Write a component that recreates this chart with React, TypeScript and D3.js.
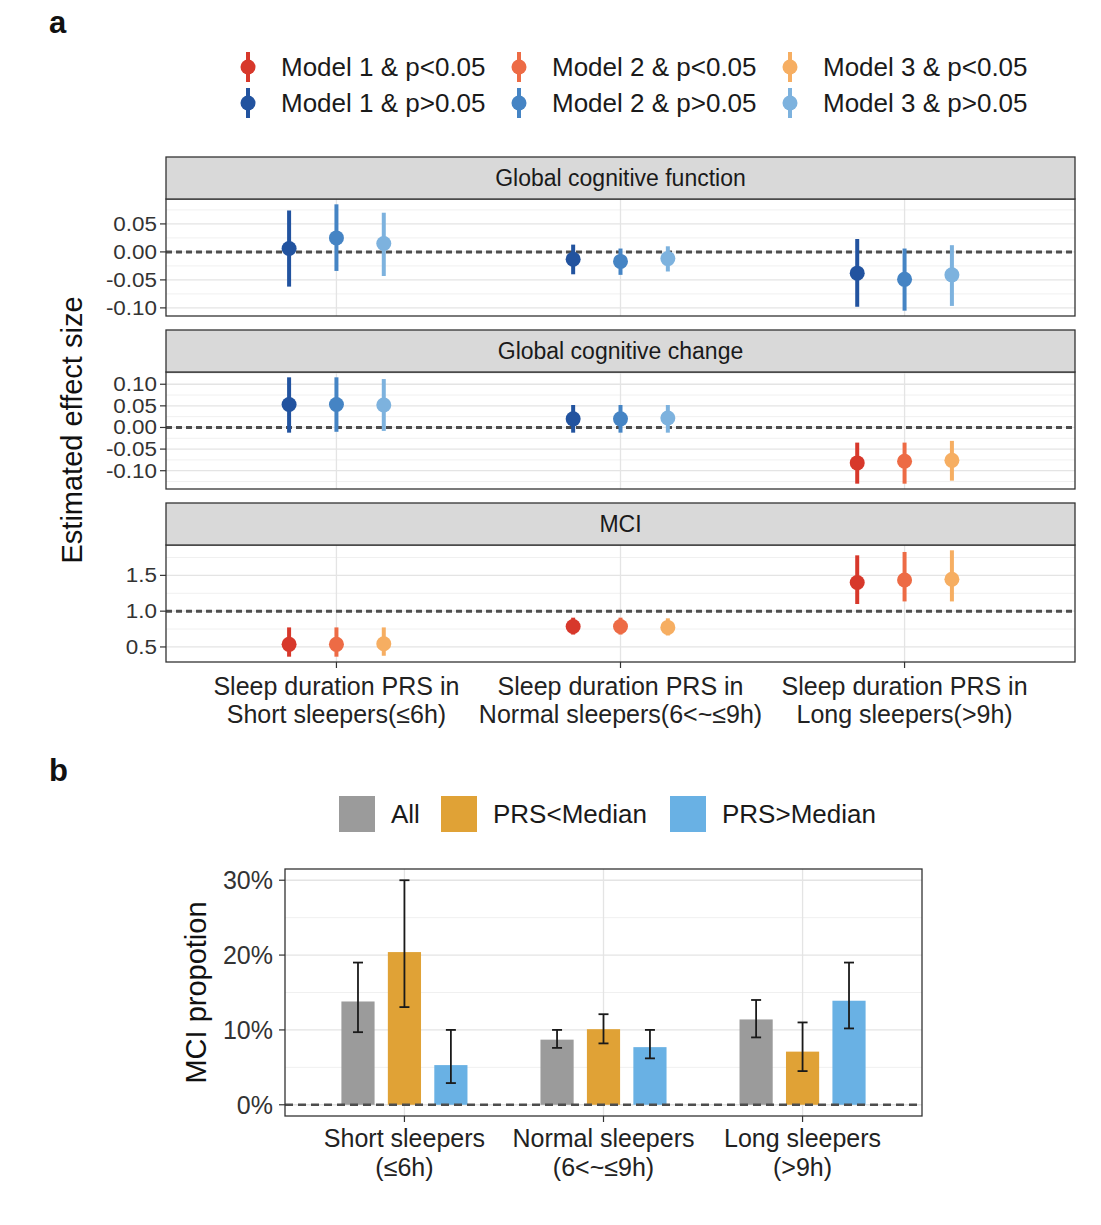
import React from "react";
import * as d3 from "d3";

const FONT = '"Liberation Sans", Arial, Helvetica, sans-serif';

// ---------- Panel a data ----------
const categoriesA = [
  ["Sleep duration PRS in", "Short sleepers(≤6h)"],
  ["Sleep duration PRS in", "Normal sleepers(6<~≤9h)"],
  ["Sleep duration PRS in", "Long sleepers(>9h)"],
];
const facetTitles = ["Global cognitive function", "Global cognitive change", "MCI"];
const models = ["Model 1", "Model 2", "Model 3"];

// [category][model]
const gcfEst = [[0.006, 0.025, 0.015], [-0.013, -0.017, -0.012], [-0.038, -0.049, -0.041]];
const gcfLow = [[-0.062, -0.034, -0.043], [-0.040, -0.041, -0.035], [-0.098, -0.105, -0.0965]];
const gcfHigh = [[0.074, 0.085, 0.070], [0.013, 0.006, 0.010], [0.023, 0.006, 0.012]];
const gcfSig = [[false, false, false], [false, false, false], [false, false, false]];

const gccEst = [[0.053, 0.053, 0.052], [0.020, 0.020, 0.022], [-0.082, -0.078, -0.076]];
const gccLow = [[-0.012, -0.010, -0.008], [-0.012, -0.012, -0.012], [-0.130, -0.130, -0.123]];
const gccHigh = [[0.116, 0.116, 0.112], [0.052, 0.052, 0.052], [-0.035, -0.035, -0.031]];
const gccSig = [[false, false, false], [false, false, false], [true, true, true]];

const mciEst = [[0.536, 0.536, 0.545], [0.786, 0.786, 0.773], [1.40, 1.436, 1.445]];
const mciLow = [[0.364, 0.364, 0.377], [0.673, 0.673, 0.66], [1.10, 1.136, 1.136]];
const mciHigh = [[0.773, 0.773, 0.773], [0.909, 0.909, 0.90], [1.78, 1.827, 1.85]];
const mciSig = [[true, true, true], [true, true, true], [true, true, true]];

const gcfTicks = [-0.1, -0.05, 0, 0.05];
const gccTicks = [-0.1, -0.05, 0, 0.05, 0.1];
const mciTicks = [0.5, 1.0, 1.5];
const refLines = [0, 0, 1];

const sigColors = ["#d7382b", "#ed6b45", "#f6ae62"];
const nsColors = ["#22539f", "#4584c4", "#7db2de"];

// ---------- Panel b data ----------
const categoriesB = [
  ["Short sleepers", "(≤6h)"],
  ["Normal sleepers", "(6<~≤9h)"],
  ["Long sleepers", "(>9h)"],
];
const groupsB = ["All", "PRS<Median", "PRS>Median"];
const groupColors = ["#9b9b9b", "#e0a236", "#69b1e4"];
const propVal = [[13.8, 20.4, 5.3], [8.7, 10.1, 7.7], [11.4, 7.1, 13.9]];
const propLow = [[9.7, 13.05, 2.9], [7.6, 8.2, 6.2], [9.0, 4.5, 10.2]];
const propHigh = [[19.0, 30.0, 10.0], [10.0, 12.1, 10.0], [14.0, 11.0, 19.0]];
const propTicks = [0, 10, 20, 30];

const fmt2 = (v: number) => d3.format(".2f")(v).replace("\u2212", "-");
const fmt1 = (v: number) => d3.format(".1f")(v).replace("\u2212", "-");

const facets = [
  { title: facetTitles[0], est: gcfEst, low: gcfLow, high: gcfHigh, sig: gcfSig, ticks: gcfTicks, fmt: fmt2 },
  { title: facetTitles[1], est: gccEst, low: gccLow, high: gccHigh, sig: gccSig, ticks: gccTicks, fmt: fmt2 },
  { title: facetTitles[2], est: mciEst, low: mciLow, high: mciHigh, sig: mciSig, ticks: mciTicks, fmt: fmt1 },
];

function minorBreaks(ticks: number[], domain: number[]) {
  const step = ticks[1] - ticks[0];
  const out: number[] = [];
  for (let i = -1; i < ticks.length; i++) {
    const v = ticks[0] + step * i + step / 2;
    if (v >= domain[0] && v <= domain[1]) out.push(v);
  }
  return out;
}

export default function App() {
  const PX0 = 166, PX1 = 1075;
  const xA = d3.scaleLinear().domain([0.4, 3.6]).range([PX0, PX1]);
  const dodgeA = 0.5 / 3;
  const stripTops = [157, 330, 503];
  const stripH = 42;
  const panelH = 117;

  // panel b
  const BX0 = 285, BX1 = 922, BY0 = 869, BY1 = 1116;
  const xB = d3.scaleLinear().domain([0.4, 3.6]).range([BX0, BX1]);
  const yB = d3.scaleLinear().domain([-1.5, 31.5]).range([BY1, BY0]);
  const dodgeB = 0.7 / 3;
  const barW = xB(0.5 / 3) - xB(0);

  return (
    <svg width={1101} height={1225} style={{ position: "absolute", left: 0, top: 0, background: "#fff" }} fontFamily={FONT}>
      <rect width={1101} height={1225} fill="#fff" />
      <text x={49} y={33} fontSize={31} fontWeight="bold" fill="#111">a</text>
      <text x={49} y={781} fontSize={31} fontWeight="bold" fill="#111">b</text>

      {/* legend a */}
      {[0, 1, 2].map((m) =>
        [0, 1].map((r) => {
          const cx = 248 + m * 271;
          const cy = 67 + r * 36;
          const col = r === 0 ? sigColors[m] : nsColors[m];
          return (
            <g key={`lg${m}${r}`}>
              <line x1={cx} x2={cx} y1={cy - 15} y2={cy + 15} stroke={col} strokeWidth={4} />
              <circle cx={cx} cy={cy} r={7.5} fill={col} />
              <text x={cx + 33} y={cy} dy="0.36em" fontSize={26} fill="#1a1a1a">
                {`${models[m]} & p${r === 0 ? "<" : ">"}0.05`}
              </text>
            </g>
          );
        })
      )}

      {/* facets */}
      {facets.map((f, fi) => {
        const sTop = stripTops[fi];
        const pTop = sTop + stripH;
        const pBot = pTop + panelH;
        const lows = f.low.flat();
        const highs = f.high.flat();
        const mn = d3.min(lows)!, mx = d3.max(highs)!;
        const pad = (mx - mn) * 0.05;
        const dom = [mn - pad, mx + pad];
        const y = d3.scaleLinear().domain(dom).range([pBot, pTop]);
        const minors = minorBreaks(f.ticks, dom);
        return (
          <g key={`f${fi}`}>
            <rect x={PX0} y={pTop} width={PX1 - PX0} height={panelH} fill="#fff" />
            {minors.map((v) => (
              <line key={`mn${v}`} x1={PX0} x2={PX1} y1={y(v)} y2={y(v)} stroke="#f0f0f0" strokeWidth={1} />
            ))}
            {f.ticks.map((v) => (
              <line key={`mj${v}`} x1={PX0} x2={PX1} y1={y(v)} y2={y(v)} stroke="#e4e4e4" strokeWidth={1.3} />
            ))}
            {[1, 2, 3].map((c) => (
              <line key={`vg${c}`} x1={xA(c)} x2={xA(c)} y1={pTop} y2={pBot} stroke="#e4e4e4" strokeWidth={1.3} />
            ))}
            <line x1={PX0} x2={PX1} y1={y(refLines[fi])} y2={y(refLines[fi])} stroke="#4d4d4d" strokeWidth={3} strokeDasharray="6,4" />
            {f.est.map((row, ci) =>
              row.map((v, mi) => {
                const cx = xA(ci + 1 + (mi - 1) * dodgeA);
                const col = f.sig[ci][mi] ? sigColors[mi] : nsColors[mi];
                return (
                  <g key={`p${ci}${mi}`}>
                    <line x1={cx} x2={cx} y1={y(f.low[ci][mi])} y2={y(f.high[ci][mi])} stroke={col} strokeWidth={4} />
                    <circle cx={cx} cy={y(v)} r={7.5} fill={col} />
                  </g>
                );
              })
            )}
            <rect x={PX0} y={pTop} width={PX1 - PX0} height={panelH} fill="none" stroke="#333" strokeWidth={1.3} />
            <rect x={PX0} y={sTop} width={PX1 - PX0} height={stripH} fill="#d9d9d9" stroke="#333" strokeWidth={1.3} />
            <text x={(PX0 + PX1) / 2} y={sTop + stripH / 2} dy="0.36em" textAnchor="middle" fontSize={23} fill="#1a1a1a">
              {f.title}
            </text>
            {f.ticks.map((v) => (
              <g key={`t${v}`}>
                <line x1={PX0 - 6} x2={PX0} y1={y(v)} y2={y(v)} stroke="#333" strokeWidth={1.2} />
                <text x={PX0 - 9} y={y(v)} dy="0.36em" textAnchor="end" fontSize={19.5} fill="#333"
                  transform={`translate(${PX0 - 9},0) scale(1.15,1) translate(${-(PX0 - 9)},0)`}>
                  {f.fmt(v)}
                </text>
              </g>
            ))}
          </g>
        );
      })}

      {/* x axis a */}
      {categoriesA.map((lab, ci) => (
        <g key={`xa${ci}`}>
          <line x1={xA(ci + 1)} x2={xA(ci + 1)} y1={662} y2={668} stroke="#333" strokeWidth={1.2} />
          {lab.map((l, li) => (
            <text key={li} x={xA(ci + 1)} y={695 + li * 28} textAnchor="middle" fontSize={25} fill="#222">
              {l}
            </text>
          ))}
        </g>
      ))}
      <text transform={`translate(82,430) rotate(-90)`} textAnchor="middle" fontSize={29} fill="#111">
        Estimated effect size
      </text>

      {/* legend b */}
      {groupsB.map((g, gi) => {
        const kx = [339, 441, 670][gi];
        return (
          <g key={`lb${gi}`}>
            <rect x={kx} y={796} width={36} height={36} fill={groupColors[gi]} />
            <text x={kx + 52} y={814} dy="0.36em" fontSize={26} fill="#1a1a1a">{g}</text>
          </g>
        );
      })}

      {/* panel b */}
      <rect x={BX0} y={BY0} width={BX1 - BX0} height={BY1 - BY0} fill="#fff" />
      {minorBreaks(propTicks, yB.domain()).map((v) => (
        <line key={`bmn${v}`} x1={BX0} x2={BX1} y1={yB(v)} y2={yB(v)} stroke="#f0f0f0" strokeWidth={1} />
      ))}
      {propTicks.map((v) => (
        <line key={`bmj${v}`} x1={BX0} x2={BX1} y1={yB(v)} y2={yB(v)} stroke="#e4e4e4" strokeWidth={1.3} />
      ))}
      {[1, 2, 3].map((c) => (
        <line key={`bvg${c}`} x1={xB(c)} x2={xB(c)} y1={BY0} y2={BY1} stroke="#e4e4e4" strokeWidth={1.3} />
      ))}
      {propVal.map((row, ci) =>
        row.map((v, gi) => {
          const cx = xB(ci + 1 + (gi - 1) * dodgeB);
          return (
            <rect key={`bar${ci}${gi}`} x={cx - barW / 2} y={yB(v)} width={barW} height={yB(0) - yB(v)} fill={groupColors[gi]} />
          );
        })
      )}
      <line x1={BX0} x2={BX1} y1={yB(0)} y2={yB(0)} stroke="#4d4d4d" strokeWidth={2.6} strokeDasharray="8,5" />
      {propVal.map((row, ci) =>
        row.map((_, gi) => {
          const cx = xB(ci + 1 + (gi - 1) * dodgeB);
          const lo = yB(propLow[ci][gi]);
          const hi = yB(propHigh[ci][gi]);
          return (
            <g key={`eb${ci}${gi}`} stroke="#1a1a1a" strokeWidth={1.8}>
              <line x1={cx} x2={cx} y1={lo} y2={hi} />
              <line x1={cx - 5} x2={cx + 5} y1={lo} y2={lo} />
              <line x1={cx - 5} x2={cx + 5} y1={hi} y2={hi} />
            </g>
          );
        })
      )}
      <rect x={BX0} y={BY0} width={BX1 - BX0} height={BY1 - BY0} fill="none" stroke="#333" strokeWidth={1.3} />
      {propTicks.map((v) => (
        <g key={`bt${v}`}>
          <line x1={BX0 - 6} x2={BX0} y1={yB(v)} y2={yB(v)} stroke="#333" strokeWidth={1.2} />
          <text x={BX0 - 12} y={yB(v)} dy="0.36em" textAnchor="end" fontSize={25} fill="#333">{`${v}%`}</text>
        </g>
      ))}
      {categoriesB.map((lab, ci) => (
        <g key={`xb${ci}`}>
          <line x1={xB(ci + 1)} x2={xB(ci + 1)} y1={BY1} y2={BY1 + 6} stroke="#333" strokeWidth={1.2} />
          {lab.map((l, li) => (
            <text key={li} x={xB(ci + 1)} y={1147 + li * 29} textAnchor="middle" fontSize={25} fill="#222">
              {l}
            </text>
          ))}
        </g>
      ))}
      <text transform={`translate(206,${(BY0 + BY1) / 2}) rotate(-90)`} textAnchor="middle" fontSize={29} fill="#111">
        MCI propotion
      </text>
    </svg>
  );
}
